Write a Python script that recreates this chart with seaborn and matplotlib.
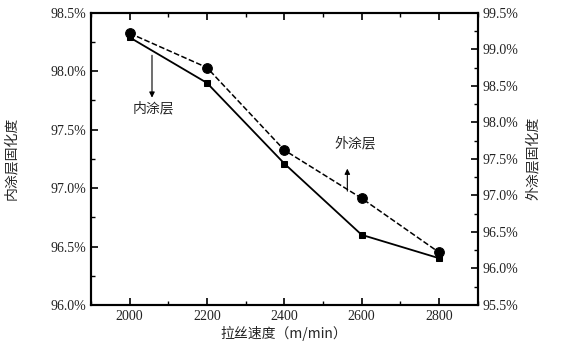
import numpy as np
import pandas as pd
import matplotlib
matplotlib.use("Agg")
import matplotlib.pyplot as plt
from matplotlib.ticker import PercentFormatter, MultipleLocator
import seaborn as sns

speed = [2000, 2200, 2400, 2600, 2800]
inner_cure = [98.29, 97.90, 97.21, 96.60, 96.40]   # 内涂层, left axis
outer_cure = [99.22, 98.75, 97.62, 96.96, 96.22]   # 外涂层, right axis

sns.set_style("ticks")
plt.rcParams['font.family'] = ['Liberation Serif', 'Noto Sans CJK SC']
plt.rcParams['font.size'] = 10
cjk = ['Noto Sans CJK SC', 'DejaVu Sans']

df = pd.DataFrame({'speed': speed, 'inner': inner_cure, 'outer': outer_cure})

fig = plt.figure(figsize=(5.68, 3.55), dpi=100)
ax1 = fig.add_axes([0.16, 0.141, 0.681, 0.823])
ax2 = ax1.twinx()

sns.lineplot(data=df, x='speed', y='inner', ax=ax1, color='black', lw=1.3,
             marker='s', markersize=5, markeredgecolor='black')
sns.lineplot(data=df, x='speed', y='outer', ax=ax2, color='black', lw=1.1,
             linestyle='--', dashes=(4, 3), marker='o', markersize=7,
             markeredgecolor='black')

ax1.set_xlim(1900, 2900)
ax1.set_ylim(96.0, 98.5)
ax2.set_ylim(95.5, 99.5)

ax1.xaxis.set_major_locator(MultipleLocator(200))
ax1.xaxis.set_minor_locator(MultipleLocator(100))
ax1.yaxis.set_major_locator(MultipleLocator(0.5))
ax1.yaxis.set_minor_locator(MultipleLocator(0.25))
ax2.yaxis.set_major_locator(MultipleLocator(0.5))
ax2.yaxis.set_minor_locator(MultipleLocator(0.25))
ax1.yaxis.set_major_formatter(PercentFormatter(xmax=100, decimals=1))
ax2.yaxis.set_major_formatter(PercentFormatter(xmax=100, decimals=1))

ax1.tick_params(which='both', direction='in', top=True, right=False, colors='black',
                labelsize=10)
ax1.tick_params(which='major', length=5, width=1.2)
ax1.tick_params(which='minor', length=3, width=1)
ax2.tick_params(which='both', direction='in', colors='black', labelsize=10)
ax2.tick_params(which='major', length=5, width=1.2)
ax2.tick_params(which='minor', length=3, width=1)

for ax in (ax1, ax2):
    for s in ax.spines.values():
        s.set_visible(True)
        s.set_linewidth(1.5)
        s.set_color('black')
    for lbl in ax.get_xticklabels() + ax.get_yticklabels():
        lbl.set_color('#222222')

ax1.set_xlabel('拉丝速度（m/min）', family=cjk, fontsize=10, labelpad=2)
ax1.set_ylabel('内涂层固化度', family=cjk, fontsize=10, labelpad=23)
ax2.set_ylabel('外涂层固化度', family=cjk, fontsize=10, labelpad=5)

ax1.annotate('', xy=(2058, 97.75), xytext=(2058, 98.16),
             arrowprops=dict(arrowstyle='-|>', color='black', lw=0.8,
                             mutation_scale=8))
ax1.text(2061, 97.685, '内涂层', family=cjk, fontsize=10, ha='center', va='center')
ax1.annotate('', xy=(2563, 97.19), xytext=(2563, 96.95),
             arrowprops=dict(arrowstyle='-|>', color='black', lw=0.8,
                             mutation_scale=8))
ax1.text(2583, 97.38, '外涂层', family=cjk, fontsize=10, ha='center', va='center')

fig.savefig('out.png', dpi=100)
